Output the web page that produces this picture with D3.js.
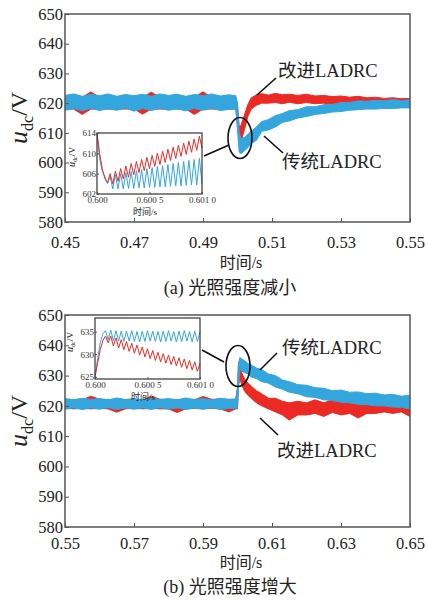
<!DOCTYPE html>
<html>
<head>
<meta charset="utf-8">
<script src="https://cdn.jsdelivr.net/npm/d3@7"></script>
<style>
  body { margin: 0; background: #fff; }
  svg { display: block; }
</style>
</head>
<body>
<svg id="chart" width="428" height="600"></svg>
<script>
// ── Data ──────────────────────────────────────────────────────────────────────
const RED  = "#ec2a24";
const BLUE = "#33a6dd";
const FONT = "'Liberation Serif', 'DejaVu Serif', 'Noto Sans CJK SC', serif";

const Y_TICKS   = [580, 590, 600, 610, 620, 630, 640, 650];
const X_TICKS_A = [0.45, 0.47, 0.49, 0.51, 0.53, 0.55];
const X_TICKS_B = [0.55, 0.57, 0.59, 0.61, 0.63, 0.65];

// panel (a): band envelopes (upper / lower) of each curve
const tA = [0.45, 0.4525, 0.455, 0.4575, 0.46, 0.4625, 0.465, 0.4675, 0.47, 0.4725,
            0.475, 0.4775, 0.48, 0.4825, 0.485, 0.4875, 0.49, 0.4925, 0.495, 0.4975,
            0.4995, 0.5, 0.5005, 0.501, 0.502, 0.503, 0.504, 0.5055, 0.507, 0.509,
            0.511, 0.513, 0.515, 0.5175, 0.52, 0.5225, 0.525, 0.5275, 0.53, 0.5325,
            0.535, 0.5375, 0.54, 0.5425, 0.545, 0.5475, 0.55];
const blueHiA = [622.6, 623.1, 622.3, 623.0, 622.5, 623.1, 622.3, 622.9, 622.5, 623.0,
                 622.3, 623.1, 622.6, 623.0, 622.3, 622.9, 622.5, 623.1, 622.4, 622.8,
                 622.5, 620, 610, 608, 608.5, 609.5, 610.5, 612, 613.8, 614.5,
                 615.8, 616.5, 617.5, 617.8, 618.8, 618.8, 619.5, 619.6, 620.2, 620.2,
                 620.8, 620.6, 621, 620.8, 621.2, 620.8, 621.2];
const blueLoA = [617.6, 618.2, 617.4, 618.3, 617.5, 618.1, 617.6, 618.4, 617.3, 618.2,
                 617.5, 618.3, 617.6, 618.1, 617.4, 618.2, 617.6, 618.3, 617.5, 617.9,
                 618, 611, 603.5, 603, 604, 605, 606.5, 607.5, 610.5, 611,
                 612, 613.5, 614, 615, 615.5, 616.2, 616.5, 617, 617.2, 617.6,
                 617.8, 618, 618, 618.2, 618.2, 618.4, 618.4];
const redHiA  = [622, 622, 622, 623.8, 622, 622, 622, 622, 622, 622,
                 623.7, 622, 622, 622, 622, 622, 623.8, 622, 622, 622,
                 622, 619, 612, 612.5, 616, 619.5, 621.8, 622.8, 623.2, 622.7,
                 623.3, 622.8, 623, 622.6, 623, 622.4, 622.6, 622.2, 622.4, 622,
                 622.3, 621.8, 622, 621.6, 621.8, 621.5, 621.6];
const redLoA  = [618, 618, 616.2, 618, 618, 618, 618, 618, 618, 616.3,
                 618, 618, 618, 618, 618, 616.2, 618, 618, 618, 618,
                 618, 613, 606, 607, 611, 615.5, 618, 619.3, 620, 620,
                 620.2, 619.8, 620.3, 619.8, 620.2, 619.8, 620, 619.6, 619.8, 619.5,
                 619.6, 619.2, 619.4, 619, 619.2, 619, 619];

// panel (b)
const tB = [0.55, 0.5525, 0.555, 0.5575, 0.56, 0.5625, 0.565, 0.5675, 0.57, 0.5725,
            0.575, 0.5775, 0.58, 0.5825, 0.585, 0.5875, 0.59, 0.5925, 0.595, 0.5975,
            0.5995, 0.6, 0.6003, 0.6007, 0.6012, 0.602, 0.603, 0.604, 0.6055, 0.607,
            0.609, 0.611, 0.613, 0.615, 0.6175, 0.62, 0.6225, 0.625, 0.6275, 0.63,
            0.6325, 0.635, 0.6375, 0.64, 0.6425, 0.645, 0.6475, 0.65];
const blueHiB = [622.4, 622.0, 622.5, 622.1, 622.4, 622.0, 622.6, 622.1, 622.4, 622.0,
                 622.5, 622.1, 622.4, 622.0, 622.6, 622.1, 622.4, 622.0, 622.5, 622.2,
                 622.3, 626, 634, 636, 635.5, 635, 634, 633.5, 632.5, 632,
                 630.5, 630, 628.5, 628, 627, 626.8, 626, 625.8, 625, 625.2,
                 624.5, 624.6, 624, 624.2, 623.6, 623.8, 623.2, 623.5];
const blueLoB = [618.9, 619.3, 618.8, 619.3, 618.9, 619.4, 618.8, 619.3, 618.9, 619.3,
                 618.8, 619.4, 618.9, 619.3, 618.8, 619.3, 618.9, 619.4, 618.8, 619.2,
                 619, 619.5, 626, 632, 631.5, 631, 630.5, 629.5, 629, 628,
                 627.5, 626.2, 625.5, 624.5, 624, 623, 622.8, 622, 621.8, 621.2,
                 621, 620.5, 620.4, 620, 620, 619.6, 619.5, 619];
const redHiB  = [622, 622, 622, 623.2, 622.2, 622, 622, 622, 622, 622,
                 623.2, 622.2, 622, 622, 622, 622, 623.1, 622.2, 622, 622,
                 622, 626, 634.5, 633, 631, 629, 627.5, 626.5, 625, 624,
                 622.5, 622.5, 621.5, 621, 621.5, 621, 622, 621, 622, 621.5,
                 622, 621, 622, 621.5, 622.5, 621.5, 622, 621];
const redLoB  = [619.2, 619, 619.2, 619, 619.2, 619, 617.9, 619, 619.2, 619,
                 619.2, 619, 619, 617.8, 619, 619.2, 619, 619.2, 619, 618,
                 619, 619, 627, 629, 627, 625, 623.5, 622.5, 621, 620,
                 619, 618, 617, 615.3, 617, 617, 617.5, 616.5, 617.8, 617,
                 617.5, 616, 617.5, 617.5, 618, 617.5, 618, 616.5];

// insets: 0.600 0 – 0.601 0 s
const tIn = [0.6, 0.600025, 0.60005, 0.600075, 0.6001, 0.600125, 0.60015, 0.600175, 0.6002, 0.600225,
             0.60025, 0.600275, 0.6003, 0.600325, 0.60035, 0.600375, 0.6004, 0.600425, 0.60045, 0.600475,
             0.6005, 0.600525, 0.60055, 0.600575, 0.6006, 0.600625, 0.60065, 0.600675, 0.6007, 0.600725,
             0.60075, 0.600775, 0.6008, 0.600825, 0.60085, 0.600875, 0.6009, 0.600925, 0.60095, 0.600975,
             0.601];
const redInA  = [614, 610, 607, 605, 604.2, 606, 604, 606.5, 604.5, 607,
                 605, 607.5, 605.3, 608, 605.8, 608.4, 606.2, 608.8, 606.6, 609.2,
                 607, 609.6, 607.4, 610, 607.8, 610.4, 608.2, 610.8, 608.6, 611.2,
                 609, 611.6, 609.4, 612, 609.8, 612.4, 610.2, 612.8, 610.6, 613.4,
                 611];
const blueInA = [614, 609, 606.5, 605.5, 604, 605.5, 603, 605.8, 603, 606,
                 603, 606.2, 603.1, 606.4, 603.1, 606.6, 603.2, 606.8, 603.2, 607,
                 603.3, 607.2, 603.3, 607.4, 603.4, 607.6, 603.4, 607.8, 603.5, 608,
                 603.6, 608.2, 603.6, 608.4, 603.7, 608.6, 603.8, 608.8, 603.8, 609,
                 604];
const redInB  = [625, 628, 631, 633, 634, 632.5, 634, 631.8, 633.6, 631.4,
                 633.2, 631, 632.8, 630.6, 632.4, 630.2, 632, 629.8, 631.6, 629.4,
                 631.2, 629, 630.8, 628.6, 630.4, 628.3, 630.1, 628, 629.8, 627.7,
                 629.5, 627.4, 629.2, 627.1, 628.9, 626.8, 628.6, 626.5, 628.3, 626.2,
                 628];
const blueInB = [625, 629, 632.5, 634.5, 635.2, 633.2, 635.3, 633, 635.2, 632.9,
                 635.1, 632.8, 635.1, 632.9, 635.2, 632.8, 635, 632.7, 635.1, 632.8,
                 635.2, 632.9, 635.1, 632.8, 635, 632.7, 635.1, 632.8, 635.2, 632.9,
                 635, 632.7, 635.1, 632.8, 635.2, 632.9, 635, 632.7, 635.1, 632.8,
                 635];
const IN_X_TICKS  = [0.6, 0.6005, 0.601];
const IN_X_LABELS = ["0.600", "0.600 5", "0.601 0"];
const IN_Y_TICKS_A = [602, 606, 610, 614];
const IN_Y_TICKS_B = [625, 630, 635];

// ── SVG ───────────────────────────────────────────────────────────────────────
const svg = d3.select("#chart");
svg.append("rect").attr("width", 428).attr("height", 600).attr("fill", "#fff");

function ylabel(g, x, y, size) {
  const t = g.append("text")
    .attr("transform", `translate(${x},${y}) rotate(-90)`)
    .attr("text-anchor", "middle").style("font-family", FONT).attr("fill", "#222");
  t.append("tspan").attr("font-style", "italic").attr("font-size", size).text("u");
  t.append("tspan").attr("font-size", size * 0.62).attr("dy", size * 0.22).text("dc");
  t.append("tspan").attr("font-size", size * 0.92).attr("dy", -size * 0.22).text("/V");
}

function label(g, x, y, size, str, anchor) {
  return g.append("text").attr("x", x).attr("y", y).attr("text-anchor", anchor || "start")
    .attr("font-size", size).attr("fill", "#222").style("font-family", FONT).text(str);
}

// ── Panel ─────────────────────────────────────────────────────────────────────
function drawPanel(p) {
  const x = d3.scaleLinear().domain(p.xDomain).range([65, 410]);
  const y = d3.scaleLinear().domain([580, 650]).range([p.bottom, p.top]);
  const g = svg.append("g");

  const clipId = "clip" + p.id;
  svg.append("clipPath").attr("id", clipId)
    .append("rect").attr("x", 65).attr("y", p.top).attr("width", 345).attr("height", p.bottom - p.top);

  const area = (hi, lo) => d3.area()
    .x((d, i) => x(p.t[i])).y0((d, i) => y(lo[i])).y1((d, i) => y(hi[i]))(p.t);

  const dg = g.append("g").attr("clip-path", `url(#${clipId})`);
  dg.append("path").attr("d", area(p.redHi, p.redLo)).attr("fill", RED)
    .attr("stroke", RED).attr("stroke-width", 1);
  dg.append("path").attr("d", area(p.blueHi, p.blueLo)).attr("fill", BLUE)
    .attr("stroke", BLUE).attr("stroke-width", 1);

  // axes
  const ya = g.append("g").attr("transform", "translate(65,0)")
    .call(d3.axisLeft(y).tickValues(Y_TICKS).tickSize(-4).tickPadding(2).tickFormat(d3.format("d")));
  const xa = g.append("g").attr("transform", `translate(0,${p.bottom})`)
    .call(d3.axisBottom(x).tickValues(p.xTicks).tickSize(-4).tickPadding(p.xPad).tickFormat(d3.format(".2f")));
  [ya, xa].forEach(a => {
    a.select(".domain").remove();
    a.selectAll("line").attr("stroke", "#555");
    a.selectAll("text").attr("font-size", 16.5).attr("fill", "#222").style("font-family", FONT);
  });
  g.append("rect").attr("x", 65).attr("y", p.top).attr("width", 345).attr("height", p.bottom - p.top)
    .attr("fill", "none").attr("stroke", "#555").attr("stroke-width", 1.5);

  ylabel(g, 27, (p.top + p.bottom) / 2, 26);
  label(g, 241, p.bottom + p.titleDy, 16, "时间/s", "middle");
  label(g, 230, p.bottom + p.capDy, 18, p.caption, "middle");

  // inset
  const ix = d3.scaleLinear().domain([0.6, 0.601]).range([p.inX0, p.inX0 + 105]);
  const iy = d3.scaleLinear().domain(p.inYDomain).range([p.inY0 + 61, p.inY0]);
  const ig = g.append("g");
  ig.append("rect").attr("x", p.inX0).attr("y", p.inY0).attr("width", 105).attr("height", 61)
    .attr("fill", "#fff");
  const line = vals => d3.line().x((d, i) => ix(tIn[i])).y(d => iy(d))(vals);
  ig.append("path").attr("d", line(p.inBlue)).attr("fill", "none").attr("stroke", BLUE).attr("stroke-width", 1);
  ig.append("path").attr("d", line(p.inRed)).attr("fill", "none").attr("stroke", RED).attr("stroke-width", 1);
  const iya = ig.append("g").attr("transform", `translate(${p.inX0},0)`)
    .call(d3.axisLeft(iy).tickValues(p.inYTicks).tickSize(-2).tickPadding(1).tickFormat(d3.format("d")));
  const ixa = ig.append("g").attr("transform", `translate(0,${p.inY0 + 61})`)
    .call(d3.axisBottom(ix).tickValues(IN_X_TICKS).tickSize(-2).tickPadding(3)
      .tickFormat((d, i) => IN_X_LABELS[i]));
  [iya, ixa].forEach(a => {
    a.select(".domain").remove();
    a.selectAll("line").attr("stroke", "#555");
    a.selectAll("text").attr("font-size", 9).attr("fill", "#333").style("font-family", FONT);
  });
  ig.append("rect").attr("x", p.inX0).attr("y", p.inY0).attr("width", 105).attr("height", 61)
    .attr("fill", "none").attr("stroke", "#444").attr("stroke-width", 1.3);
  ylabel(ig, p.inX0 - 22, p.inY0 + 24, 10);
  label(ig, p.inX0 + 48, p.inY0 + 82, 9, "时间/s", "middle");

  // annotations
  const ag = g.append("g").attr("stroke", "#111").attr("stroke-width", 1.6).attr("fill", "none");
  ag.append("ellipse").attr("cx", p.ell[0]).attr("cy", p.ell[1]).attr("rx", 12).attr("ry", 20.5);
  p.leaders.forEach(l => ag.append("line").attr("x1", l[0]).attr("y1", l[1]).attr("x2", l[2]).attr("y2", l[3]));
  p.notes.forEach(n => label(g, n[0], n[1], 18.5, n[2]));
}

drawPanel({
  id: "a", top: 14, bottom: 222, xDomain: [0.45, 0.55], xTicks: X_TICKS_A, xPad: 14,
  titleDy: 46, capDy: 72,
  t: tA, blueHi: blueHiA, blueLo: blueLoA, redHi: redHiA, redLo: redLoA,
  caption: "(a) 光照强度减小",
  inX0: 97, inY0: 133, inYDomain: [602, 614], inYTicks: IN_Y_TICKS_A, inRed: redInA, inBlue: blueInA,
  ell: [240, 138],
  leaders: [[204, 156, 229, 145], [276, 78, 257, 95], [264, 136, 283, 153]],
  notes: [[278, 77, "改进LADRC"], [282, 168, "传统LADRC"]]
});

drawPanel({
  id: "b", top: 315, bottom: 527, xDomain: [0.55, 0.65], xTicks: X_TICKS_B, xPad: 10,
  titleDy: 41, capDy: 66,
  t: tB, blueHi: blueHiB, blueLo: blueLoB, redHi: redHiB, redLo: redLoB,
  caption: "(b) 光照强度增大",
  inX0: 95, inY0: 318, inYDomain: [624.5, 638], inYTicks: IN_Y_TICKS_B, inRed: redInB, inBlue: blueInB,
  ell: [238, 366],
  leaders: [[202, 350, 224, 362], [277, 353, 260, 370], [260, 418, 278, 435]],
  notes: [[282, 354, "传统LADRC"], [277, 457, "改进LADRC"]]
});
</script>
</body>
</html>
